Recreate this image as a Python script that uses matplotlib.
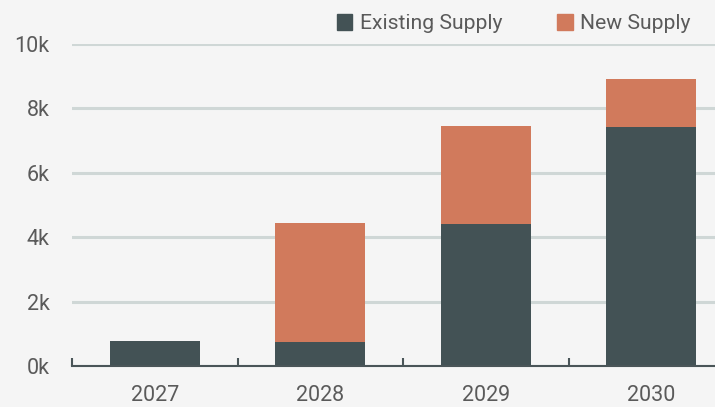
import matplotlib
matplotlib.use("Agg")
import matplotlib.pyplot as plt
from matplotlib.patches import Patch
import numpy as np

plt.rcParams["font.family"] = ["Roboto", "DejaVu Sans"]

# data (units of supply)
years = ["2027", "2028", "2029", "2030"]
existing = [780, 760, 4420, 7420]
new = [0, 3680, 3030, 1490]
y_ticks = [0, 2000, 4000, 6000, 8000, 10000]
y_labels = ["0k", "2k", "4k", "6k", "8k", "10k"]

bg = "#f5f5f5"
c_exist = "#435255"
c_new = "#d17a5c"
c_grid = "#cfd7d6"
c_text = "#5a5a5a"

fig = plt.figure(figsize=(7.15, 4.07), dpi=100, facecolor=bg)
# axes runs past the right edge of the figure on purpose
ax = fig.add_axes([72 / 715, 41 / 407, 662 / 715, 322 / 407], facecolor=bg)

x = np.arange(len(years))
w = 0.545
ax.bar(x, existing, w, color=c_exist, zorder=3)
ax.bar(x, new, w, bottom=existing, color=c_new, zorder=3)

ax.set_xlim(-0.5, len(years) - 0.5)
ax.set_ylim(0, 10000)
ax.set_yticks(y_ticks)
ax.set_yticklabels(y_labels)
ax.grid(axis="y", color=c_grid, linewidth=2.2, zorder=0)

ax.set_xticks(x)
ax.set_xticklabels(years)
ax.set_xticks(np.arange(-0.5, len(years)), minor=True)
ax.tick_params(axis="x", which="major", length=0, pad=14, labelsize=15.5, labelcolor=c_text)
ax.tick_params(axis="x", which="minor", direction="in", length=6, width=1.5, color="#4a5558")
ax.tick_params(axis="y", length=0, pad=16, labelsize=15.5, labelcolor=c_text)

for s in ["top", "right", "left"]:
    ax.spines[s].set_visible(False)
ax.spines["bottom"].set_color("#4a5558")
ax.spines["bottom"].set_linewidth(1.5)
ax.spines["bottom"].set_zorder(4)

handles = [Patch(color=c_exist, label="Existing Supply"), Patch(color=c_new, label="New Supply")]
fig.legend(handles=handles, ncol=2, loc="upper right", bbox_to_anchor=(0.993, 1.012),
           frameon=False, fontsize=15.2, labelcolor=c_text, handlelength=0.75, handleheight=0.75,
           handletextpad=0.35, columnspacing=2.6)

fig.savefig("out.png", dpi=100, facecolor=bg)
